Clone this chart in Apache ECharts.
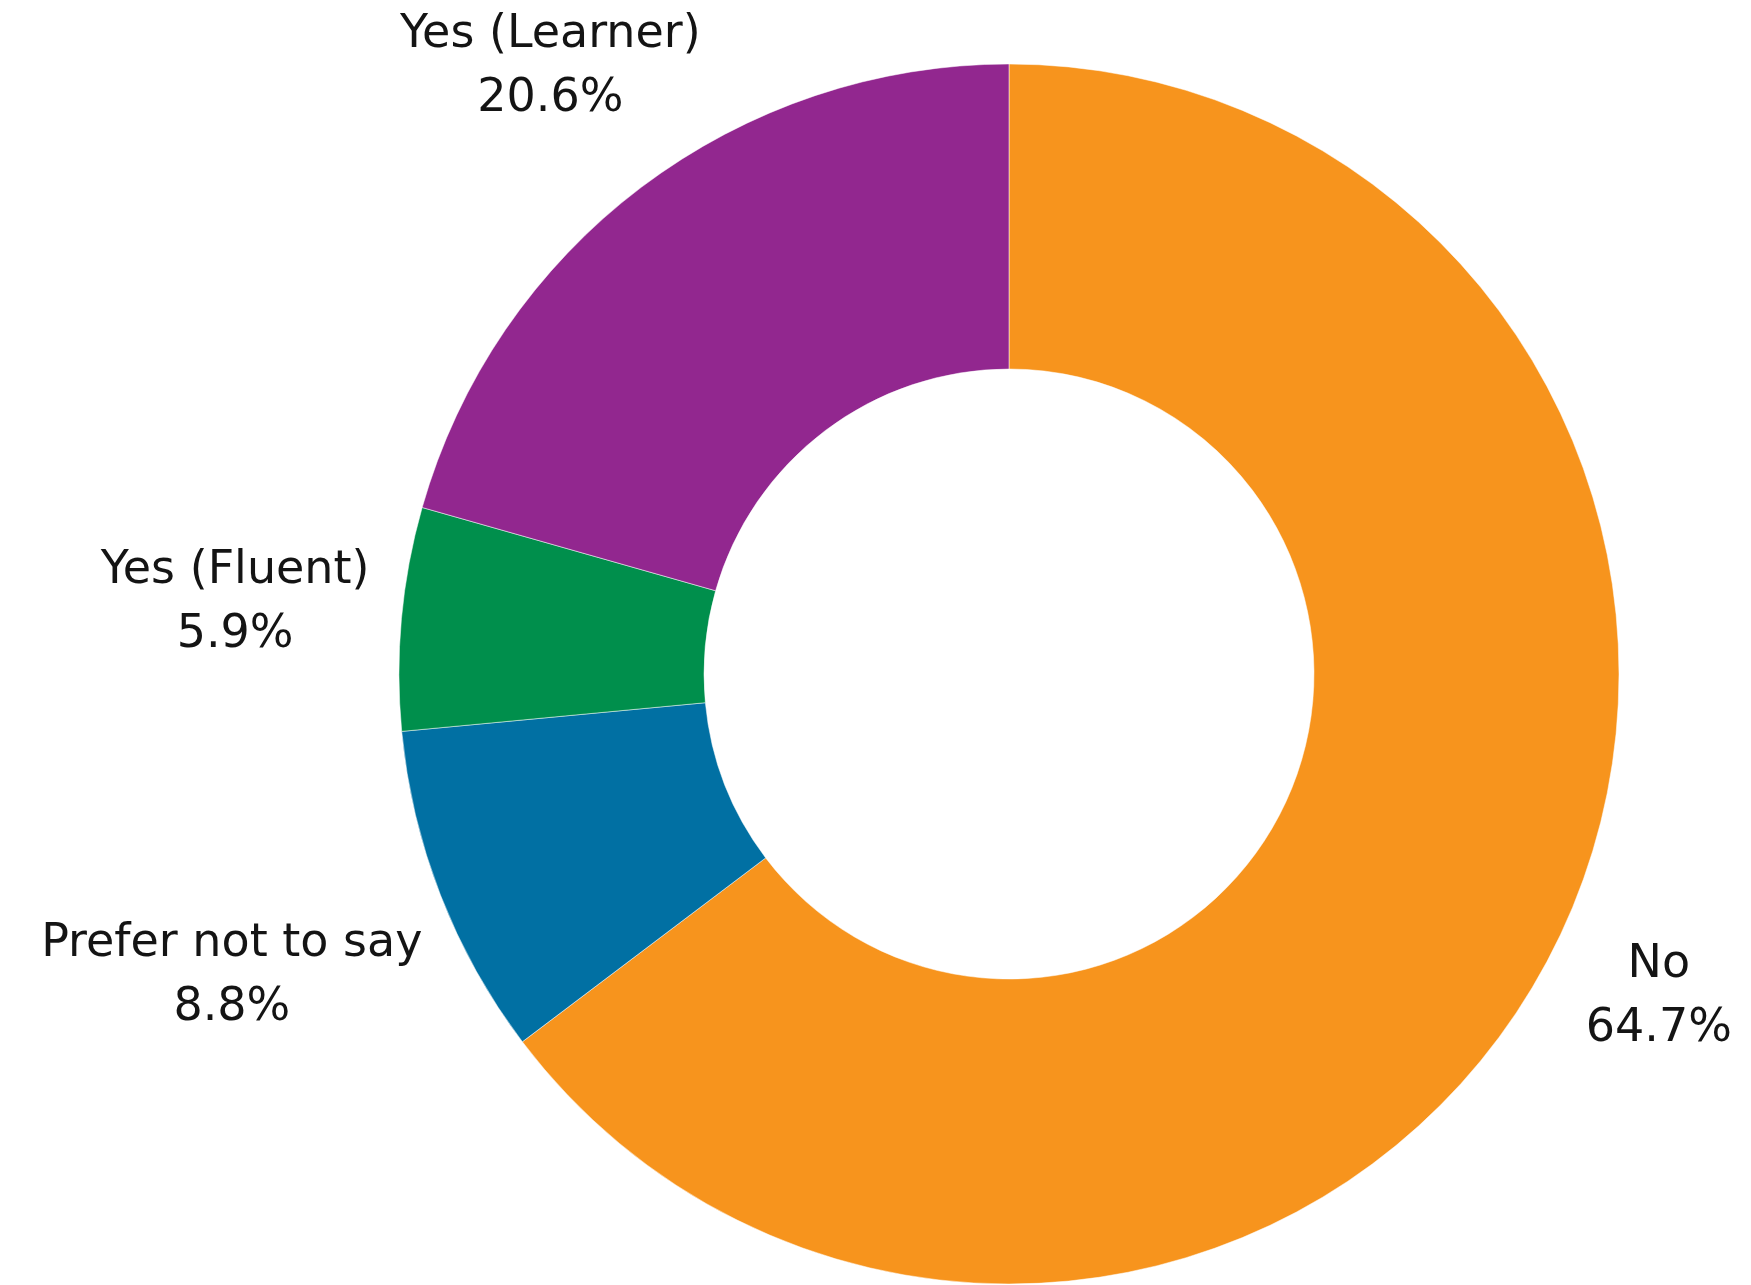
<!DOCTYPE html>
<html>
<head>
<meta charset="utf-8">
<title>Welsh language</title>
<script src="https://cdn.jsdelivr.net/npm/echarts@6/dist/echarts.min.js"></script>
<style>
  html, body { margin: 0; padding: 0; background: #ffffff; }
  #chart { width: 1751px; height: 1285px; }
</style>
</head>
<body>
<div id="chart"></div>
<script>
// Answer categories, in clockwise order from 12 o'clock
const categories = ['No', 'Prefer not to say', 'Yes (Fluent)', 'Yes (Learner)'];
// Share of respondents, percent
const shares = [64.7, 8.8, 5.9, 20.6];
// Slice colours
const colors = ['#F7941D', '#0170A3', '#008F4C', '#92278F'];

const CENTER = [1009, 674];
const INNER_R = 305;
const OUTER_R = 610;
const LABEL_GAP = 30;      // distance between ring edge and nearest text glyph
const LINE_HEIGHT = 64;
const GLYPH_TRIM = 18;     // line-box padding above/below the glyphs

const total = shares.reduce((a, b) => a + b, 0);

// Place each label on its slice's bisector, pushed out until the text
// box sits LABEL_GAP px clear of the outer ring.
function placeLabel(params) {
  const i = params.dataIndex;
  let before = 0;
  for (let k = 0; k < i; k++) before += shares[k];
  const mid = (before + shares[i] / 2) / total * Math.PI * 2;
  const ux = Math.sin(mid), uy = -Math.cos(mid);
  const hw = params.labelRect.width / 2;
  const hh = params.labelRect.height / 2 - GLYPH_TRIM;
  const nearest = (R) => {
    const dx = Math.max(Math.abs(R * ux) - hw, 0);
    const dy = Math.max(Math.abs(R * uy) - hh, 0);
    return Math.hypot(dx, dy);
  };
  let lo = 0, hi = 3000;
  for (let n = 0; n < 60; n++) {
    const m = (lo + hi) / 2;
    if (nearest(m) < OUTER_R + LABEL_GAP) lo = m; else hi = m;
  }
  return {
    x: CENTER[0] + hi * ux,
    y: CENTER[1] + hi * uy,
    align: 'center',
    verticalAlign: 'middle'
  };
}

const chart = echarts.init(document.getElementById('chart'), null, { renderer: 'canvas' });

chart.setOption({
  animation: false,
  backgroundColor: '#ffffff',
  series: [{
    type: 'pie',
    center: CENTER,
    radius: [INNER_R, OUTER_R],
    startAngle: 90,
    clockwise: true,
    avoidLabelOverlap: false,
    silent: true,
    itemStyle: { borderColor: '#ffffff', borderWidth: 0.5 },
    label: {
      show: true,
      position: 'outside',
      formatter: '{b}\n{c}%',
      fontFamily: 'DejaVu Sans',
      fontSize: 46,
      lineHeight: LINE_HEIGHT,
      color: '#141414',
      textAlign: 'center'
    },
    labelLine: { show: false },
    labelLayout: placeLabel,
    emphasis: { disabled: true },
    data: categories.map((name, i) => ({
      name: name,
      value: shares[i],
      itemStyle: { color: colors[i] }
    }))
  }]
});
</script>
</body>
</html>
